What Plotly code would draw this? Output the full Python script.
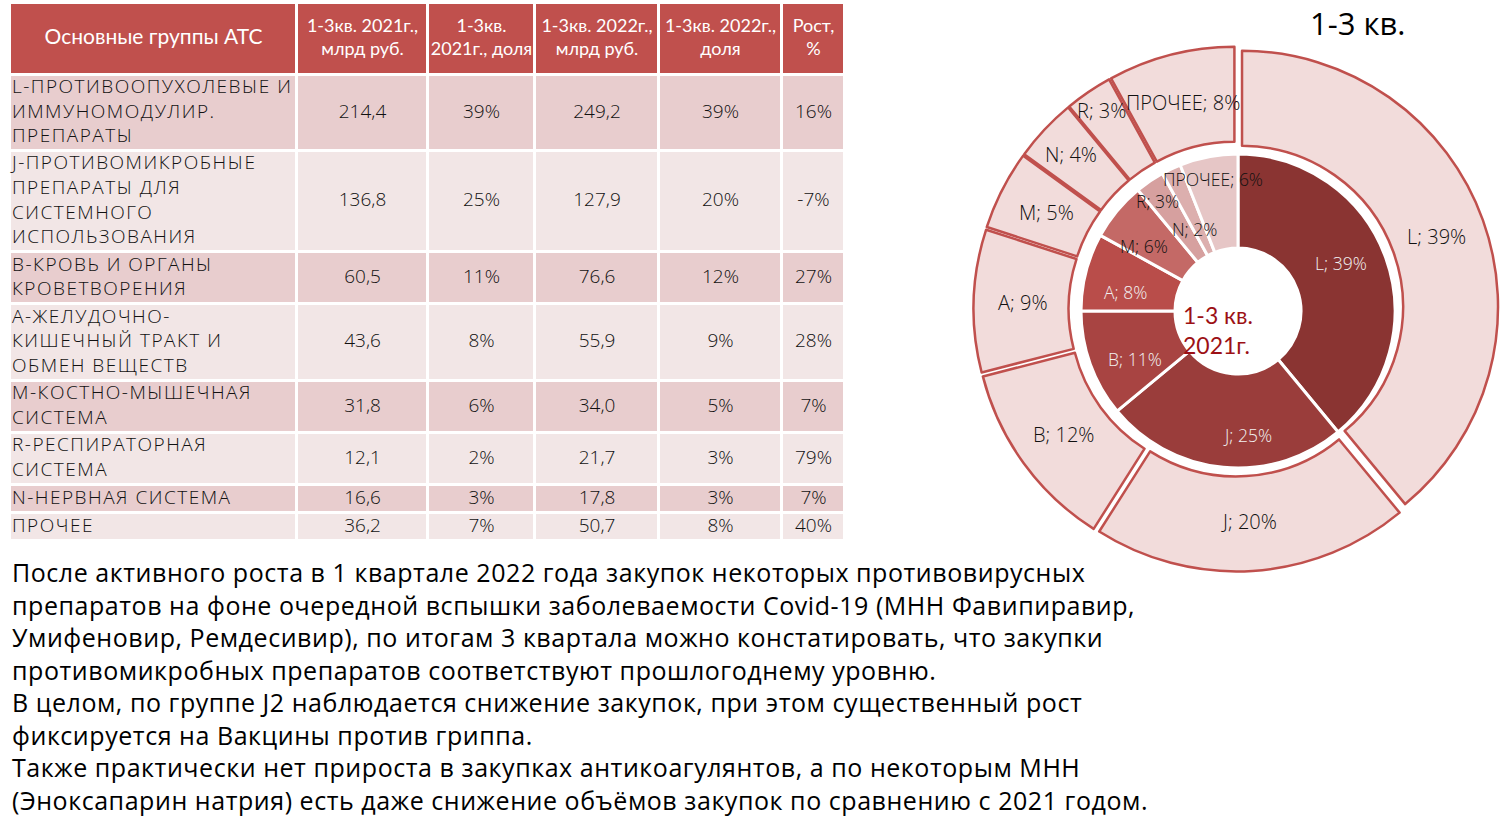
import math
import plotly.graph_objects as go

# ---- table data ----
header = ["Основные группы АТС", "1-3кв. 2021г.,<br>млрд руб.", "1-3кв.<br>2021г., доля",
          "1-3кв. 2022г.,<br>млрд руб.", "1-3кв. 2022г.,<br>доля", "Рост,<br>%"]
groups = ["L-ПРОТИВООПУХОЛЕВЫЕ И<br>ИММУНОМОДУЛИР.<br>ПРЕПАРАТЫ",
          "J-ПРОТИВОМИКРОБНЫЕ<br>ПРЕПАРАТЫ ДЛЯ<br>СИСТЕМНОГО<br>ИСПОЛЬЗОВАНИЯ",
          "B-КРОВЬ И ОРГАНЫ<br>КРОВЕТВОРЕНИЯ",
          "A-ЖЕЛУДОЧНО-<br>КИШЕЧНЫЙ ТРАКТ И<br>ОБМЕН ВЕЩЕСТВ",
          "M-КОСТНО-МЫШЕЧНАЯ<br>СИСТЕМА",
          "R-РЕСПИРАТОРНАЯ<br>СИСТЕМА",
          "N-НЕРВНАЯ СИСТЕМА",
          "ПРОЧЕЕ"]
sum_2021 = [214.4, 136.8, 60.5, 43.6, 31.8, 12.1, 16.6, 36.2]
share_2021 = [39, 25, 11, 8, 6, 2, 3, 7]
sum_2022 = [249.2, 127.9, 76.6, 55.9, 34.0, 21.7, 17.8, 50.7]
share_2022 = [39, 20, 12, 9, 5, 3, 3, 8]
growth = [16, -7, 27, 28, 7, 79, 7, 40]

# ---- donut data (as labelled on the rings) ----
labels_2021 = ["L", "J", "B", "A", "M", "R", "N", "ПРОЧЕЕ"]
pie_2021 = [39, 25, 11, 8, 6, 3, 2, 6]
labels_2022 = ["L", "J", "B", "A", "M", "N", "R", "ПРОЧЕЕ"]
pie_2022 = [39, 20, 12, 9, 5, 4, 3, 8]

para = [
    "После активного роста в 1 квартале 2022 года закупок некоторых противовирусных",
    "препаратов на фоне очередной вспышки заболеваемости Covid-19 (МНН Фавипиравир,",
    "Умифеновир, Ремдесивир), по итогам 3 квартала можно констатировать, что закупки",
    "противомикробных препаратов соответствуют прошлогоднему уровню.",
    "В целом, по группе J2 наблюдается снижение закупок, при этом существенный рост",
    "фиксируется на Вакцины против гриппа.",
    "Также практически нет прироста в закупках антикоагулянтов, а по некоторым МНН",
    "(Эноксапарин натрия) есть даже снижение объёмов закупок по сравнению с 2021 годом.",
]

W, H = 1501, 833
RED = "#c0504d"
DARK_ROW = "#e8cdce"
LIGHT_ROW = "#f2e6e6"
TXT = "#111111"
HFONT = "Lato, Noto Sans, sans-serif"
TFONT = "Open Sans, Noto Sans, sans-serif"


def px(x):
    return x / W


def py(y):
    return 1 - y / H


def fmt(v):
    return f"{v:.1f}".replace(".", ",")


def spaced(s, ls):
    return "<br>".join(f'<span style="letter-spacing:{ls}px">{part}</span>' for part in s.split("<br>"))


cols = [[spaced(g, 1.5) for g in groups],
        [fmt(v) for v in sum_2021],
        [f"{v}%" for v in share_2021],
        [fmt(v) for v in sum_2022],
        [f"{v}%" for v in share_2022],
        [f"{v}%" for v in growth]]

col_w = [287, 131, 107, 124, 123, 63]
head_h = 72
line_h = 24.4
row_pad = 3.6
row_h = [line_h * (g.count("<br>") + 1) + row_pad for g in groups]
centers = []
top = head_h
for h in row_h:
    centers.append(top + h / 2)
    top += h
total_h = top
row_colors = [DARK_ROW if i % 2 == 0 else LIGHT_ROW for i in range(len(groups))]

fig = go.Figure()

x0 = 0
for j, w in enumerate(col_w):
    fig.add_trace(go.Bar(
        orientation="h",
        y=[head_h / 2] + centers,
        x=[w] * (len(groups) + 1),
        base=[x0] * (len(groups) + 1),
        width=[head_h] + row_h,
        marker=dict(color=[RED] + row_colors, line=dict(color="white", width=3)),
        hoverinfo="skip", showlegend=False,
    ))
    fig.add_trace(go.Scatter(
        x=[x0 + w / 2], y=[head_h / 2], mode="text", text=[header[j]],
        textfont=dict(color="white", size=21 if j == 0 else 18, family=HFONT),
        hoverinfo="skip", showlegend=False, cliponaxis=False,
    ))
    if j == 0:
        fig.add_trace(go.Scatter(
            x=[x0 + 2] * len(groups), y=centers, mode="text", text=cols[j],
            textposition="middle right",
            textfont=dict(color=TXT, size=19, family=TFONT, weight=300),
            hoverinfo="skip", showlegend=False, cliponaxis=False,
        ))
    else:
        fig.add_trace(go.Scatter(
            x=[x0 + w / 2] * len(groups), y=centers, mode="text", text=cols[j],
            textfont=dict(color=TXT, size=19, family=TFONT, weight=300),
            hoverinfo="skip", showlegend=False, cliponaxis=False,
        ))
    x0 += w

# ---- donuts ----
outer_c = (1236, 309)
outer_r = 256
pull = 0.025
half = outer_r * (1 + pull)
fig.add_trace(go.Pie(
    labels=labels_2022, values=pie_2022, sort=False, direction="clockwise", rotation=0,
    hole=161 / outer_r, pull=[pull] * len(labels_2022),
    marker=dict(colors=["#f2dcdb"] * len(labels_2022), line=dict(color=RED, width=2.5)),
    textinfo="none",
    domain=dict(x=[px(outer_c[0] - half), min(1, px(outer_c[0] + half))],
                y=[py(outer_c[1] + half), py(outer_c[1] - half)]),
    showlegend=False, hoverinfo="skip",
))

inner_c = (1238, 311)
inner_r = 157
inner_colors = ["#8a3432", "#9a3d3b", "#a84442", "#b94d4a", "#c46966", "#d6a09f", "#dcafae", "#e6c6c6"]
inner_txt = ["#f2f2f2"] * 4 + [TXT] * 4
fig.add_trace(go.Pie(
    labels=labels_2021, values=pie_2021, sort=False, direction="clockwise", rotation=0,
    hole=63 / inner_r,
    marker=dict(colors=inner_colors, line=dict(color="white", width=3)),
    textinfo="none",
    domain=dict(x=[px(inner_c[0] - inner_r), px(inner_c[0] + inner_r)],
                y=[py(inner_c[1] + inner_r), py(inner_c[1] - inner_r)]),
    showlegend=False, hoverinfo="skip",
))


def ring_labels(labels, values, center, radius, shift, overrides, colors, size):
    # label at the slice bisector; overrides: label -> (radius, angle shift)
    out = []
    total = sum(values)
    cum = 0
    for lab, v, c in zip(labels, values, colors):
        r, s = overrides.get(lab, (radius, shift))
        ang = math.radians((cum + v / 2) / total * 360 + s)
        cum += v
        x = center[0] + r * math.sin(ang)
        y = center[1] - r * math.cos(ang)
        out.append(dict(text=f"{lab}; {v}%", x=px(x), y=py(y), xref="paper", yref="paper",
                        xanchor="center", yanchor="middle", showarrow=False,
                        font=dict(size=size, color=c, family=TFONT, weight=300)))
    return out


annotations = []
annotations += ring_labels(labels_2022, pie_2022, outer_c, 213, 0,
                           {"N": (226, 0), "R": (240, 0)}, [TXT] * 8, 20)
annotations += ring_labels(labels_2021, pie_2021, inner_c, 114, -5,
                           {"J": (124, -10), "R": (136, -2), "N": (93, -3), "ПРОЧЕЕ": (134, 0)},
                           inner_txt, 17.5)

annotations += [
    dict(text="1-3 кв.", x=px(1357), y=1, xref="paper", yref="paper",
         xanchor="center", yanchor="top", showarrow=False,
         font=dict(size=31, color="black", family="Open Sans")),
    dict(text="1-3 кв.<br>2021г.", x=px(1181), y=py(330), xref="paper", yref="paper",
         xanchor="left", yanchor="middle", align="left", showarrow=False,
         font=dict(size=23, color="#9c1015", family=HFONT)),
    dict(text=spaced("<br>".join(para), 0.55), x=px(10), y=py(553), xref="paper", yref="paper",
         xanchor="left", yanchor="top", align="left", showarrow=False,
         font=dict(size=25, color="black", family="Open Sans")),
]

fig.update_layout(
    width=W, height=H, margin=dict(l=0, r=0, t=0, b=0),
    paper_bgcolor="white", plot_bgcolor="white",
    barmode="overlay", bargap=0,
    xaxis=dict(domain=[px(10), px(845)], range=[0, sum(col_w)], visible=False, fixedrange=True),
    yaxis=dict(domain=[py(541), py(3)], range=[total_h, 0], visible=False, fixedrange=True),
    annotations=annotations,
)

fig.write_html("out.html", config={"displayModeBar": False},
               post_script="document.body.style.margin = '0';")
